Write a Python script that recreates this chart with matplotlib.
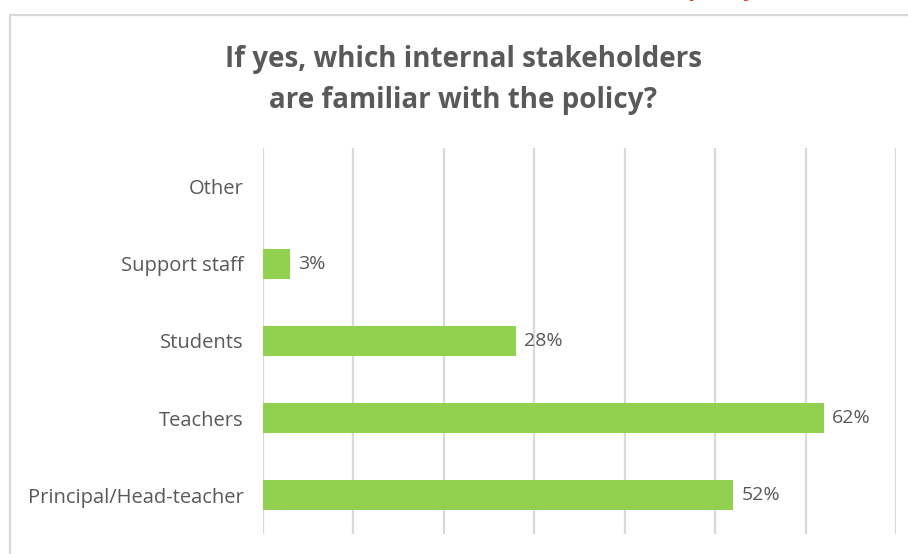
#!/usr/bin/env python3
import matplotlib
matplotlib.use('Agg')
import matplotlib.pyplot as plt
from matplotlib.patches import Rectangle

plt.rcParams['font.family'] = ['Open Sans', 'DejaVu Sans']

stakeholders = ['Principal/Head-teacher', 'Teachers', 'Students', 'Support staff', 'Other']
percent = [52, 62, 28, 3, None]
title = 'If yes, which internal stakeholders\nare familiar with the policy?'

TEXT_GRAY = '#595959'
BAR_GREEN = '#92D050'
GRID_GRAY = '#D9D9D9'


def plotStakeholders(fig, ax):
    ypos = list(range(len(stakeholders)))
    for y, value in zip(ypos, percent):
        if value is None:
            continue
        ax.barh(y, value, height=0.39, color=BAR_GREEN, zorder=2)
        ax.text(value + 0.9, y, f'{value}%', va='center', ha='left',
                fontsize=14, color=TEXT_GRAY)

    ax.set_xlim(0, 70)
    ax.set_ylim(-0.5, len(stakeholders) - 0.5)
    ax.set_xticks(range(0, 71, 10))
    ax.set_xticklabels([])
    ax.set_yticks(ypos)
    ax.set_yticklabels(stakeholders, fontsize=14.5, color=TEXT_GRAY)
    ax.tick_params(axis='both', length=0)
    ax.tick_params(axis='y', pad=14)
    ax.grid(axis='x', color=GRID_GRAY, linewidth=1.6, zorder=0)
    ax.set_axisbelow(True)
    for spine in ax.spines.values():
        spine.set_visible(False)

    fig.text(0.51, 0.855, title, ha='center', va='center', fontsize=20,
             fontweight='bold', color=TEXT_GRAY, linespacing=1.55)


def main():
    fig = plt.figure(figsize=(9.08, 5.54), dpi=100)
    W, H = 908, 554

    # chart frame
    fig.patches.append(Rectangle((10 / W, -0.1), 1.2, (H - 15) / H + 0.1,
                                 transform=fig.transFigure, fill=False,
                                 edgecolor=GRID_GRAY, linewidth=1.6))
    # red heading text from the page above, mostly off the top edge
    fig.text(722 / W, 1 + 5 / H, 'policy', ha='center', va='baseline',
             fontsize=17, fontweight='bold', color='#E03A2F')

    ax = fig.add_axes([263 / W, 1 - 534 / H, (896 - 263) / W, (534 - 148) / H])
    plotStakeholders(fig, ax)
    fig.savefig('out.png', dpi=100)


if __name__ == '__main__':
    main()
